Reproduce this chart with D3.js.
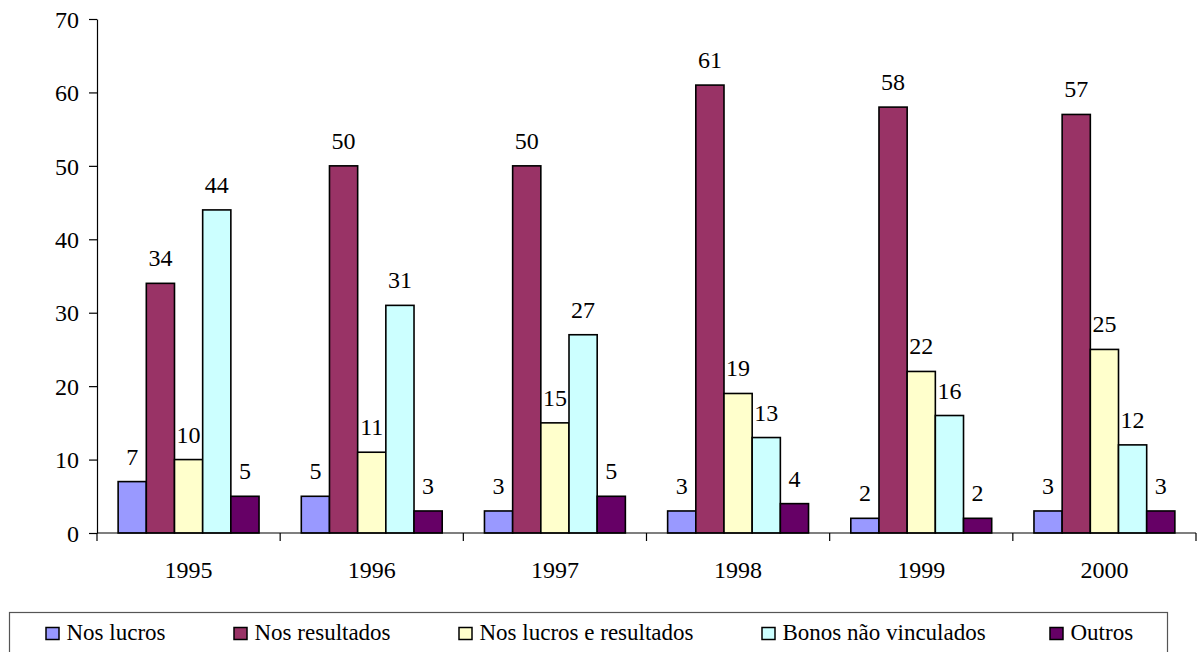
<!DOCTYPE html>
<html>
<head>
<meta charset="utf-8">
<script src="https://cdn.jsdelivr.net/npm/d3@7"></script>
<style>
  html, body { margin: 0; padding: 0; background: #fff; }
</style>
</head>
<body>
<svg id="chart" width="1198" height="652" font-family="'Liberation Serif'"></svg>
<script>
// Distribution by year and type of scheme (%)
const years = ["1995", "1996", "1997", "1998", "1999", "2000"];
const seriesNames = ["Nos lucros", "Nos resultados", "Nos lucros e resultados", "Bonos não vinculados", "Outros"];
const nosLucros      = [7, 5, 3, 3, 2, 3];
const nosResultados  = [34, 50, 50, 61, 58, 57];
const lucrosEResult  = [10, 11, 15, 19, 22, 25];
const bonos          = [44, 31, 27, 13, 16, 12];
const outros         = [5, 3, 5, 4, 2, 3];
const yTicks = [0, 10, 20, 30, 40, 50, 60, 70];
const colors = ["#9999FF", "#993366", "#FFFFCC", "#CCFFFF", "#660066"];

const seriesValues = [nosLucros, nosResultados, lucrosEResult, bonos, outros];
const FONT = "'Liberation Serif'";

const svg = d3.select("#chart");
const plot = { left: 97, right: 1196, top: 19, bottom: 533 };

const x0 = d3.scaleBand().domain(years).range([plot.left, plot.right]).padding(0);
const x1 = d3.scaleBand().domain(seriesNames).range([0, x0.bandwidth()])
  .paddingInner(0).paddingOuter(0.75);
const y = d3.scaleLinear().domain([0, 70]).range([plot.bottom, plot.top]);

// Bars
const groups = svg.append("g").selectAll("g")
  .data(years)
  .join("g")
  .attr("transform", d => `translate(${x0(d)},0)`);

groups.selectAll("rect")
  .data((yr, i) => seriesNames.map((s, k) => ({ s, k, v: seriesValues[k][i] })))
  .join("rect")
  .attr("x", d => x1(d.s))
  .attr("y", d => y(d.v))
  .attr("width", x1.bandwidth())
  .attr("height", d => y(0) - y(d.v))
  .attr("fill", d => colors[d.k])
  .attr("stroke", "#000")
  .attr("stroke-width", 1.6);

// Value labels above each bar
groups.selectAll("text.val")
  .data((yr, i) => seriesNames.map((s, k) => ({ s, k, v: seriesValues[k][i] })))
  .join("text")
  .attr("class", "val")
  .attr("x", d => x1(d.s) + x1.bandwidth() / 2)
  .attr("y", d => y(d.v) - 17)
  .attr("text-anchor", "middle")
  .attr("font-family", FONT)
  .style("font-family", FONT)
  .style("font-size", "24px")
  .text(d => d.v);

// Y axis
const yAxis = svg.append("g")
  .attr("transform", `translate(${plot.left},0)`)
  .call(d3.axisLeft(y).tickValues(yTicks).tickSize(8).tickPadding(10).tickSizeOuter(0));
yAxis.attr("font-family", FONT).attr("font-size", 24);
yAxis.select(".domain").attr("stroke", "#000").attr("stroke-width", 1.2);
yAxis.selectAll(".tick line").attr("stroke", "#000").attr("stroke-width", 1.2);
yAxis.selectAll(".tick text")
  .attr("font-family", FONT)
  .style("font-family", FONT)
  .style("font-size", "24px")
  .attr("fill", "#000")
  .attr("dy", "0.34em");

// X axis with tick marks at category boundaries
const xAxis = svg.append("g").attr("transform", `translate(0,${plot.bottom})`);
xAxis.append("line")
  .attr("x1", plot.left).attr("x2", plot.right)
  .attr("stroke", "#000").attr("stroke-width", 1.2);
const boundaries = years.map(d => x0(d)).concat([x0(years[years.length - 1]) + x0.bandwidth()]);
xAxis.selectAll("line.tk")
  .data(boundaries)
  .join("line")
  .attr("class", "tk")
  .attr("x1", d => d).attr("x2", d => d)
  .attr("y1", 0).attr("y2", 8)
  .attr("stroke", "#000").attr("stroke-width", 1.2);
xAxis.selectAll("text")
  .data(years)
  .join("text")
  .attr("x", d => x0(d) + x0.bandwidth() / 2)
  .attr("y", 45)
  .attr("text-anchor", "middle")
  .attr("font-family", FONT)
  .style("font-family", FONT)
  .style("font-size", "24px")
  .text(d => d);

// Legend
const legend = svg.append("g");
legend.append("rect")
  .attr("x", 9.5).attr("y", 612.5)
  .attr("width", 1158).attr("height", 60)
  .attr("fill", "#fff").attr("stroke", "#555").attr("stroke-width", 1.2);
const legendX = [45, 233, 458, 761, 1049];
const items = legend.selectAll("g.item")
  .data(seriesNames)
  .join("g")
  .attr("class", "item")
  .attr("transform", (d, i) => `translate(${legendX[i]},0)`);
items.append("rect")
  .attr("x", 1).attr("y", 627.5)
  .attr("width", 13).attr("height", 12)
  .attr("fill", (d, i) => colors[i])
  .attr("stroke", "#000").attr("stroke-width", 1.5);
items.append("text")
  .attr("x", 21.5).attr("y", 639.5)
  .attr("font-family", FONT)
  .style("font-family", FONT)
  .style("font-size", "23px")
  .text(d => d);
</script>
</body>
</html>
